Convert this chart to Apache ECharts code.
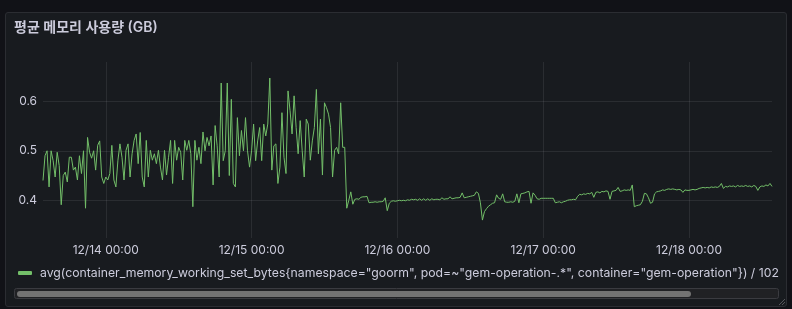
<!DOCTYPE html>
<html><head><meta charset="utf-8">
<script src="https://cdn.jsdelivr.net/npm/echarts@6/dist/echarts.min.js"></script>
<style>
html,body{margin:0;padding:0;background:#111217;width:792px;height:309px;overflow:hidden;}
#panel{position:absolute;left:5px;top:12px;width:780px;height:293px;background:#181b1f;border:1px solid #2b2d32;border-radius:3px;}
#chart{position:absolute;left:0;top:0;width:792px;height:309px;}
</style>
</head><body><div id="panel"></div><div id="chart"></div>
<script>
const panelTitle = '평균 메모리 사용량 (GB)';
const seriesName = 'avg(container_memory_working_set_bytes{namespace="goorm", pod=~"gem-operation-.*", container="gem-operation"}) / 102';
const startTime = Date.UTC(2024, 11, 13, 13, 40);
const endTime = Date.UTC(2024, 11, 18, 13, 40);
const stepMinutes = 20;
const yMin = 0.3238, yMax = 0.6794;

const memoryBeforeDrop = [
0.44,0.49,0.50,0.427,0.50,0.48,0.447,0.497,0.47,0.391,
0.45,0.457,0.437,0.487,0.487,0.461,0.467,0.441,0.49,0.454,
0.50,0.384,0.527,0.497,0.485,0.50,0.461,0.511,0.52,0.447,
0.434,0.447,0.441,0.454,0.511,0.441,0.427,0.481,0.514,0.487,
0.441,0.501,0.514,0.447,0.494,0.521,0.534,0.474,0.537,0.447,
0.427,0.521,0.447,0.501,0.481,0.494,0.474,0.501,0.467,0.441,
0.501,0.451,0.487,0.521,0.434,0.521,0.481,0.507,0.497,0.441,
0.521,0.501,0.521,0.494,0.387,0.521,0.481,0.507,0.474,0.538,
0.50,0.527,0.51,0.53,0.431,0.551,0.51,0.447,0.637,0.48,
0.50,0.637,0.45,0.604,0.434,0.427,0.567,0.49,0.541,0.50,
0.567,0.50,0.467,0.50,0.554,0.48,0.52,0.547,0.48,0.554,
0.53,0.554,0.647,0.461,0.51,0.514,0.434,0.467,0.577,0.487,
0.454,0.621,0.581,0.534,0.611,0.547,0.494,0.561,0.50,0.447,
0.564,0.554,0.481,0.52,0.547,0.624,0.494,0.564,0.451,0.597,
0.587,0.574,0.547,0.447,0.501,0.507,0.494,0.597,0.507,0.507
];
const memoryAfterDrop = [
0.384,0.40,0.417,0.392,0.402,0.403,0.402,0.406,0.407,0.407,
0.408,0.395,0.396,0.396,0.397,0.396,0.397,0.397,0.398,0.405,
0.379,0.394,0.398,0.399,0.398,0.399,0.400,0.399,0.400,0.399,
0.401,0.400,0.402,0.401,0.402,0.400,0.403,0.400,0.403,0.400,
0.403,0.400,0.403,0.401,0.402,0.402,0.401,0.405,0.402,0.403,
0.403,0.407,0.403,0.404,0.405,0.405,0.406,0.415,0.405,0.406,
0.407,0.408,0.409,0.410,0.417,0.414,0.395,0.360,0.377,0.383,
0.388,0.391,0.394,0.395,0.411,0.404,0.402,0.413,0.397,0.396,
0.396,0.397,0.396,0.398,0.413,0.395,0.413,0.414,0.415,0.417,
0.418,0.394,0.415,0.410,0.403,0.402,0.404,0.404,0.404,0.404,
0.404,0.404,0.404,0.395,0.396,0.397,0.395,0.397,0.398,0.400,
0.401,0.401,0.402,0.401,0.408,0.412,0.411,0.413,0.412,0.414,
0.413,0.416,0.406,0.416,0.417,0.415,0.418,0.417,0.419,0.418,
0.402,0.418,0.419,0.420,0.426,0.418,0.419,0.421,0.420,0.421,
0.420,0.431,0.387,0.389,0.390,0.391,0.398,0.414,0.413,0.405,
0.394,0.396,0.413,0.417,0.418,0.419,0.421,0.420,0.422,0.423,
0.422,0.423,0.422,0.421,0.422,0.421,0.416,0.421,0.420,0.420,
0.421,0.422,0.421,0.422,0.424,0.425,0.426,0.425,0.426,0.425,
0.427,0.426,0.427,0.426,0.428,0.434,0.424,0.428,0.427,0.429,
0.428,0.429,0.427,0.430,0.428,0.429,0.428,0.430,0.428,0.429,
0.427,0.430,0.428,0.420,0.427,0.429,0.428,0.431,0.429,0.434,
0.428
];

const values = memoryBeforeDrop.concat(memoryAfterDrop);
const seriesData = values.map((v, i) => [startTime + i * stepMinutes * 60000, v]);

function pad(n){ return (n < 10 ? '0' : '') + n; }
function fmtTime(v){
  const d = new Date(v);
  return pad(d.getUTCMonth()+1) + '/' + pad(d.getUTCDate()) + ' ' + pad(d.getUTCHours()) + ':' + pad(d.getUTCMinutes());
}

const textColor = '#ccccdc';
const gridColor = 'rgba(204,204,220,0.10)';
const font = 'Inter, "Noto Sans CJK KR", sans-serif';

const chart = echarts.init(document.getElementById('chart'), null, {renderer: 'canvas'});
chart.setOption({
  backgroundColor: 'transparent',
  animation: false,
  textStyle: {fontFamily: font},
  title: {
    text: panelTitle, left: 14, top: 21, padding: 0,
    textStyle: {color: textColor, fontSize: 14, fontWeight: 600, fontFamily: font}
  },
  legend: {
    left: 18, top: 267, padding: 0,
    icon: 'roundRect', itemWidth: 14, itemHeight: 4,
    textStyle: {color: textColor, fontSize: 12.25, fontFamily: font, padding: [0,0,0,3]},
    data: [seriesName]
  },
  grid: {left: 43, right: 20, top: 62, bottom: 71, outerBoundsMode: 'none'},
  xAxis: {
    type: 'time', useUTC: true,
    min: startTime, max: endTime,
    minInterval: 86400000, maxInterval: 86400000,
    axisLine: {show: false}, axisTick: {show: false},
    axisLabel: {color: textColor, fontSize: 12, fontFamily: font, margin: 6, showMinLabel: false, showMaxLabel: false,
      formatter: (v) => fmtTime(v)},
    splitLine: {show: true, showMinLine: false, showMaxLine: false, lineStyle: {color: gridColor, width: 1}}
  },
  yAxis: {
    type: 'value', min: yMin, max: yMax,
    axisLine: {show: false}, axisTick: {show: false},
    axisLabel: {color: textColor, fontSize: 12, fontFamily: font, margin: 6, showMinLabel: false, showMaxLabel: false,
      formatter: (v) => v.toFixed(1)},
    splitLine: {show: true, showMinLine: false, showMaxLine: false, lineStyle: {color: gridColor, width: 1}}
  },
  series: [{
    name: seriesName, type: 'line', data: seriesData,
    showSymbol: false, symbol: 'none',
    lineStyle: {color: '#73bf69', width: 1},
    itemStyle: {color: '#73bf69'}
  }],
  graphic: [
    {type: 'rect', shape: {x: 14.5, y: 288.5, width: 764, height: 10, r: 2}, style: {fill: '#202124', stroke: '#3a3b40', lineWidth: 1}, silent: true},
    {type: 'rect', shape: {x: 17, y: 291, width: 674, height: 6, r: 3}, style: {fill: '#737373'}, silent: true},
    {type: 'line', shape: {x1: 785, y1: 299, x2: 779, y2: 305}, style: {stroke: '#55565b', lineWidth: 1}, silent: true},
    {type: 'line', shape: {x1: 785, y1: 302, x2: 782, y2: 305}, style: {stroke: '#55565b', lineWidth: 1}, silent: true}
  ]
});
</script>
</body></html>
